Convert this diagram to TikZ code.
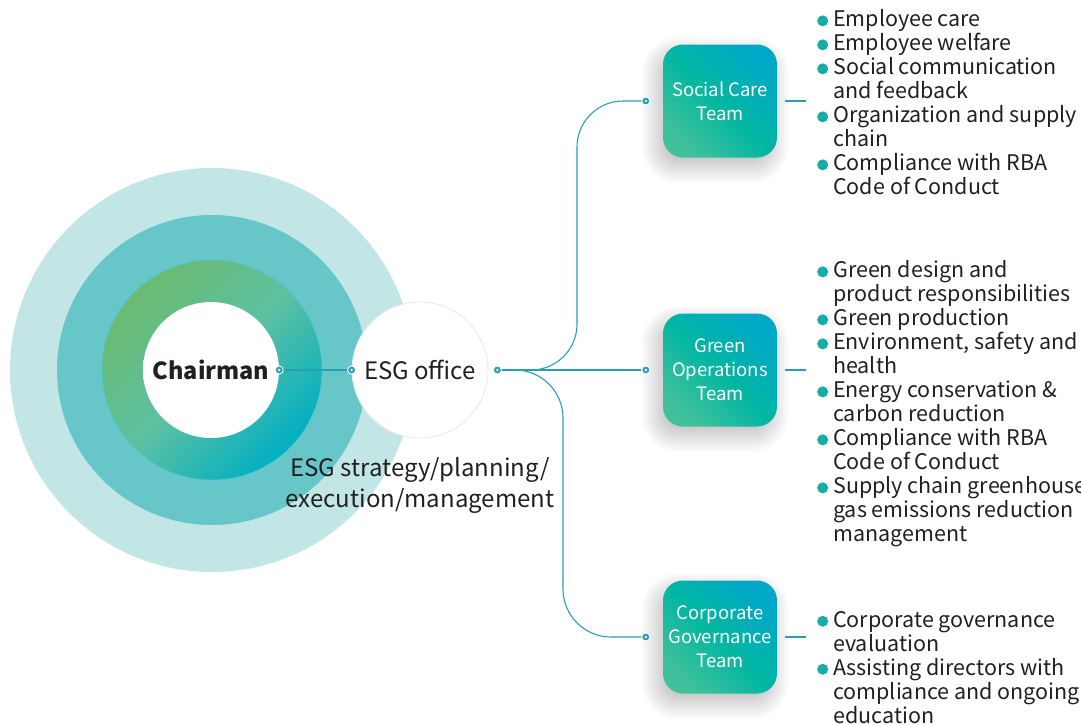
\documentclass[tikz,border=0pt]{standalone}
\usepackage{fontspec}
\setmainfont{Noto Sans CJK SC}
\usetikzlibrary{calc,shadows.blur}
\definecolor{ringout}{HTML}{C2E5E6}
\definecolor{ringmid}{HTML}{66C6C8}
\definecolor{ringgreen}{HTML}{6BBB70}
\definecolor{ringmix}{HTML}{5CC0A2}
\definecolor{ringteal}{HTML}{00AFC3}
\definecolor{teamblue}{HTML}{00A8C8}
\definecolor{teammid}{HTML}{00B6A2}
\definecolor{teamgreen}{HTML}{40C19B}
\definecolor{esglink}{HTML}{2A9FB3}
\definecolor{esgdot}{HTML}{17ACA6}
\definecolor{esgtext}{HTML}{231F20}
\pgfdeclareradialshading{softdisc}{\pgfpoint{0bp}{0bp}}{color(0bp)=(white); color(34bp)=(white); color(50bp)=(black!11)}
\newcommand{\bul}{\makebox[16pt][l]{\tikz[baseline=-6pt, x=1pt, y=1pt]\fill[esgdot] (5.5,0) circle [radius=5.5pt];}}
\newcommand{\cont}{\hspace*{16pt}}
\tikzstyle{disc} = [circle, minimum size=136, inner sep=0, shading=softdisc, text=esgtext]
\tikzstyle{team} = [rectangle, rounded corners=20, minimum width=114, minimum height=113, align=center, text=white, font=\fontsize{18.5}{24}\selectfont, top color=teamblue, bottom color=teamgreen, middle color=teammid, shading angle=-45, blur shadow={shadow xshift=-5pt, shadow yshift=-9pt, shadow blur radius=18pt, shadow blur steps=40, shadow opacity=28}]
\tikzstyle{dot} = [circle, fill=esglink, draw=white, line width=0.8, inner sep=0, minimum size=8, path picture={\fill[white] (path picture bounding box.center) circle (1.3pt);}]
\tikzstyle{link} = [draw=esglink, line width=1.1]
\tikzstyle{list} = [anchor=north west, inner sep=0, align=left, text=esgtext, font=\fontsize{21.5}{24}\selectfont]

\begin{document}
\begin{tikzpicture}[x=1pt,y=-1pt]
\useasboundingbox (0,0) rectangle (1081,724);
% rings round the chairman
\fill[ringout] (212,370) circle (202);
\fill[ringmid] (212,370) circle (155);
\shade[top color=ringgreen, bottom color=ringteal, middle color=ringmix, shading angle=45] (212,370) circle (110);
\draw[ringteal!70, line width=0.5] (212,370) circle (110);

\node[disc] (chair) at (211,370) {\fontsize{23.5}{28}\selectfont\bfseries Chairman};
\node[disc, draw=black!9, line width=0.8] (office) at (420,370) {\fontsize{24}{28}\selectfont ESG office};
\node[align=center, text=esgtext, font=\fontsize{24}{31}\selectfont] (duty) at (420,485) {ESG strategy/planning/\\execution/management};

\node[team] (social) at (720,101) {Social Care\\Team};
\node[team] (green) at (720,370) {Green\\Operations\\Team};
\node[team] (corp) at (720,637) {Corporate\\Governance\\Team};

\node[dot] (chairdot) at (chair.east) {};
\node[dot] (officein) at (office.west) {};
\node[dot] (officeout) at ([xshift=9]office.east) {};
\node[dot] (socialin) at ([xshift=-17]social.west) {};
\node[dot] (greenin) at ([xshift=-17]green.west) {};
\node[dot] (corpin) at ([xshift=-17]corp.west) {};

\coordinate (upx) at (577,0);
\coordinate (downx) at (563,0);
\draw[link] (chairdot) -- (officein);
\draw[link] (officeout) -- (greenin);
\draw[link, rounded corners=46] (officeout) -| (upx |- socialin) -- (socialin);
\draw[link, rounded corners=48] (officeout) -| (downx |- corpin) -- (corpin);

\draw[link] ([xshift=8]social.east) -- ([xshift=29]social.east);
\draw[link] ([xshift=8]green.east) -- ([xshift=29]green.east);
\draw[link] ([xshift=8]corp.east) -- ([xshift=29]corp.east);

\node[list] (sociallist) at (817,9.5) {\bul Employee care\\ \bul Employee welfare\\ \bul Social communication\\ \cont and feedback\\ \bul Organization and supply\\ \cont chain\\ \bul Compliance with RBA\\ \cont Code of Conduct};
\node[list] (greenlist) at (817,260.5) {\bul Green design and\\ \cont product responsibilities\\ \bul Green production\\ \bul Environment, safety and\\ \cont health\\ \bul Energy conservation \&\\ \cont carbon reduction\\ \bul Compliance with RBA\\ \cont Code of Conduct\\ \bul Supply chain greenhouse\\ \cont gas emissions reduction\\ \cont management};
\node[list] (corplist) at (817,611) {\bul Corporate governance\\ \cont evaluation\\ \bul Assisting directors with\\ \cont compliance and ongoing\\ \cont education};
\end{tikzpicture}
\end{document}
